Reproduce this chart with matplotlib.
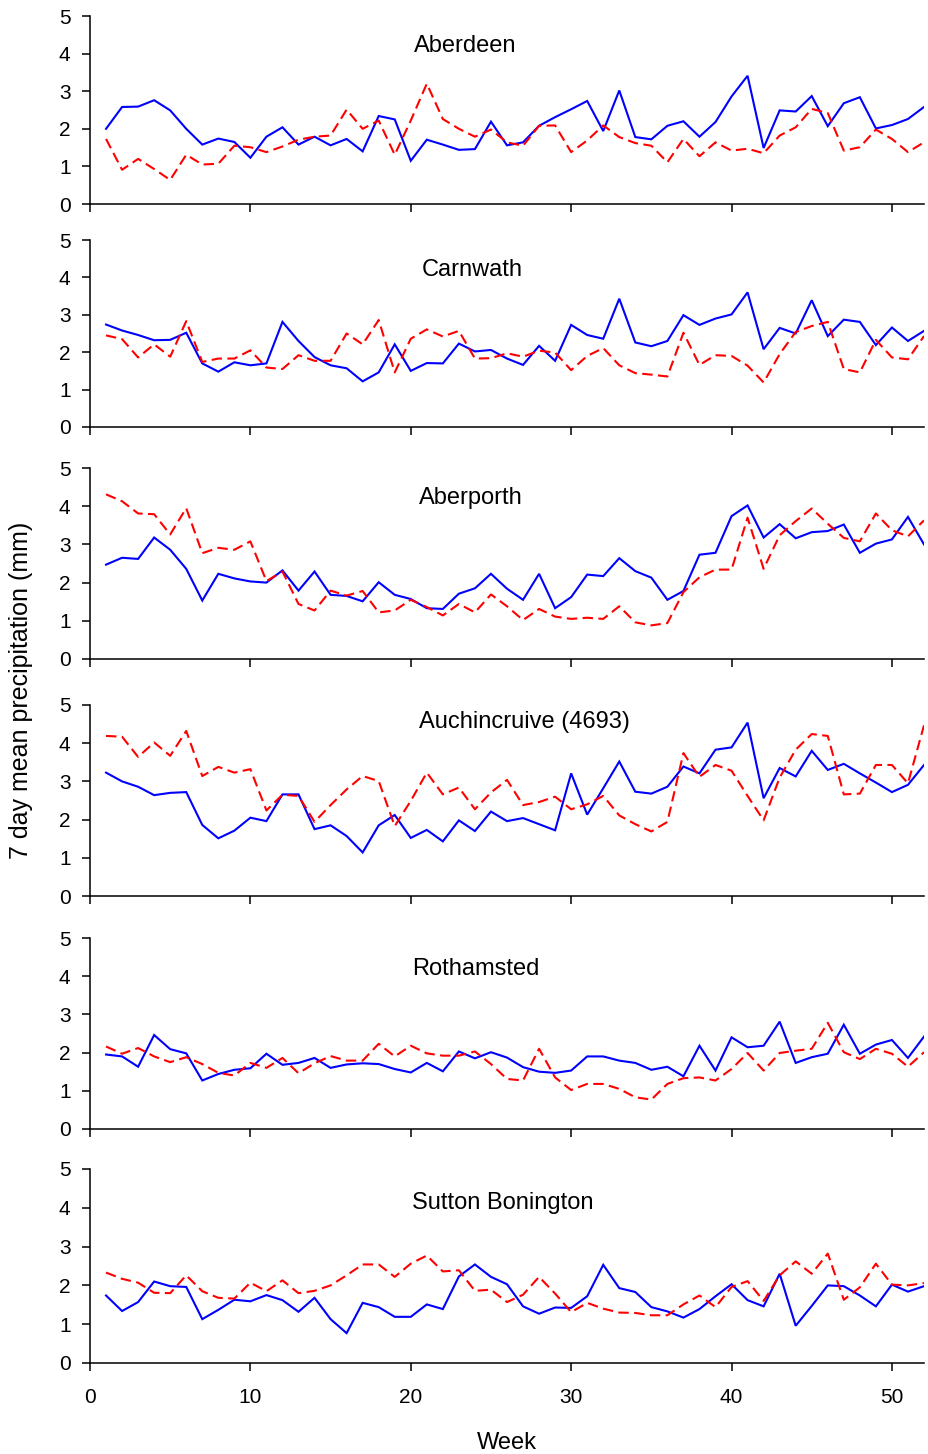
#!/usr/bin/env python3
"""Weekly 7-day mean precipitation at six UK stations, two series per site."""

import matplotlib

matplotlib.use("Agg")
from matplotlib import pyplot as plt
import numpy as np


WEEKS = np.arange(1, 53)

STATIONS = [
    "Aberdeen",
    "Carnwath",
    "Aberporth",
    "Auchincruive (4693)",
    "Rothamsted",
    "Sutton Bonington",
]

aberdeen_solid = [
    2.00, 2.58, 2.59, 2.76, 2.49, 2.00, 1.58, 1.74, 1.65, 1.23,
    1.79, 2.04, 1.58, 1.79, 1.56, 1.73, 1.40, 2.34, 2.25, 1.15,
    1.71, 1.58, 1.44, 1.46, 2.19, 1.56, 1.64, 2.08, 2.31, 2.52,
    2.74, 1.94, 3.02, 1.78, 1.72, 2.08, 2.20, 1.79, 2.18, 2.86,
    3.41, 1.49, 2.49, 2.46, 2.87, 2.07, 2.68, 2.84, 2.01, 2.10,
    2.26, 2.58,
]
aberdeen_dashed = [
    1.73, 0.91, 1.20, 0.93, 0.64, 1.31, 1.05, 1.07, 1.55, 1.51,
    1.38, 1.53, 1.71, 1.79, 1.82, 2.51, 2.00, 2.22, 1.31, 2.22,
    3.20, 2.26, 2.00, 1.79, 1.98, 1.64, 1.55, 2.08, 2.09, 1.38,
    1.69, 2.09, 1.78, 1.62, 1.55, 1.11, 1.73, 1.27, 1.64, 1.42,
    1.47, 1.35, 1.82, 2.04, 2.53, 2.42, 1.42, 1.51, 1.98, 1.73,
    1.38, 1.64,
]

carnwath_solid = [
    2.74, 2.58, 2.46, 2.32, 2.33, 2.52, 1.70, 1.48, 1.73, 1.65,
    1.70, 2.81, 2.30, 1.87, 1.65, 1.57, 1.22, 1.46, 2.21, 1.50,
    1.71, 1.70, 2.23, 2.02, 2.06, 1.83, 1.66, 2.17, 1.77, 2.73,
    2.46, 2.36, 3.43, 2.26, 2.16, 2.30, 2.99, 2.73, 2.90, 3.01,
    3.60, 2.08, 2.65, 2.50, 3.39, 2.43, 2.87, 2.81, 2.19, 2.66,
    2.30, 2.57,
]
carnwath_dashed = [
    2.45, 2.35, 1.86, 2.21, 1.88, 2.83, 1.74, 1.83, 1.83, 2.05,
    1.59, 1.55, 1.92, 1.77, 1.77, 2.50, 2.21, 2.86, 1.46, 2.36,
    2.61, 2.42, 2.57, 1.83, 1.84, 1.97, 1.88, 2.04, 1.99, 1.52,
    1.90, 2.11, 1.65, 1.44, 1.40, 1.35, 2.52, 1.66, 1.92, 1.90,
    1.64, 1.19, 1.95, 2.54, 2.70, 2.81, 1.55, 1.46, 2.33, 1.86,
    1.81, 2.43,
]

aberporth_solid = [
    2.47, 2.65, 2.62, 3.18, 2.86, 2.36, 1.53, 2.23, 2.11, 2.03,
    2.00, 2.32, 1.79, 2.29, 1.68, 1.65, 1.51, 2.01, 1.68, 1.57,
    1.33, 1.31, 1.71, 1.85, 2.23, 1.84, 1.55, 2.23, 1.33, 1.62,
    2.21, 2.17, 2.64, 2.30, 2.13, 1.55, 1.78, 2.73, 2.78, 3.74,
    4.02, 3.18, 3.53, 3.16, 3.32, 3.35, 3.52, 2.78, 3.02, 3.13,
    3.72, 3.00,
]
aberporth_dashed = [
    4.31, 4.13, 3.81, 3.79, 3.26, 3.95, 2.77, 2.91, 2.86, 3.08,
    2.04, 2.29, 1.44, 1.27, 1.79, 1.66, 1.78, 1.22, 1.27, 1.55,
    1.36, 1.14, 1.44, 1.22, 1.69, 1.38, 1.02, 1.31, 1.11, 1.05,
    1.08, 1.05, 1.38, 0.96, 0.88, 0.94, 1.75, 2.14, 2.34, 2.34,
    3.70, 2.36, 3.24, 3.61, 3.94, 3.54, 3.17, 3.08, 3.81, 3.37,
    3.21, 3.63,
]

auchincruive_solid = [
    3.23, 3.00, 2.86, 2.64, 2.70, 2.72, 1.86, 1.51, 1.71, 2.05,
    1.96, 2.66, 2.66, 1.75, 1.85, 1.57, 1.14, 1.85, 2.12, 1.52,
    1.73, 1.43, 1.98, 1.70, 2.21, 1.96, 2.04, 1.88, 1.72, 3.21,
    2.13, 2.82, 3.52, 2.73, 2.68, 2.86, 3.39, 3.21, 3.83, 3.89,
    4.54, 2.56, 3.35, 3.13, 3.80, 3.30, 3.46, 3.21, 2.97, 2.72,
    2.91, 3.43,
]
auchincruive_dashed = [
    4.19, 4.17, 3.64, 4.02, 3.67, 4.32, 3.14, 3.38, 3.23, 3.32,
    2.24, 2.65, 2.62, 1.94, 2.38, 2.79, 3.14, 3.01, 1.83, 2.49,
    3.23, 2.66, 2.84, 2.27, 2.71, 3.04, 2.38, 2.46, 2.60, 2.27,
    2.40, 2.62, 2.11, 1.88, 1.69, 1.94, 3.74, 3.12, 3.43, 3.28,
    2.62, 1.98, 3.10, 3.83, 4.24, 4.19, 2.66, 2.68, 3.43, 3.43,
    2.95, 4.47,
]

rothamsted_solid = [
    1.95, 1.90, 1.63, 2.46, 2.09, 1.98, 1.27, 1.44, 1.55, 1.59,
    1.97, 1.68, 1.73, 1.86, 1.60, 1.69, 1.72, 1.70, 1.57, 1.48,
    1.73, 1.51, 2.03, 1.85, 2.01, 1.87, 1.62, 1.50, 1.47, 1.53,
    1.90, 1.90, 1.79, 1.73, 1.55, 1.63, 1.38, 2.18, 1.53, 2.40,
    2.14, 2.18, 2.81, 1.73, 1.88, 1.97, 2.73, 1.97, 2.21, 2.33,
    1.86, 2.42,
]
rothamsted_dashed = [
    2.16, 1.97, 2.12, 1.90, 1.75, 1.88, 1.70, 1.47, 1.40, 1.73,
    1.60, 1.86, 1.46, 1.72, 1.91, 1.79, 1.79, 2.23, 1.90, 2.18,
    1.98, 1.92, 1.92, 2.03, 1.70, 1.31, 1.27, 2.10, 1.35, 1.02,
    1.18, 1.18, 1.05, 0.83, 0.77, 1.18, 1.33, 1.35, 1.27, 1.57,
    1.99, 1.53, 1.99, 2.05, 2.10, 2.78, 2.01, 1.83, 2.10, 1.97,
    1.63, 2.01,
]

sutton_solid = [
    1.74, 1.34, 1.57, 2.10, 1.98, 1.96, 1.13, 1.37, 1.63, 1.59,
    1.75, 1.62, 1.32, 1.68, 1.13, 0.77, 1.55, 1.44, 1.19, 1.19,
    1.51, 1.39, 2.23, 2.54, 2.22, 2.03, 1.46, 1.27, 1.43, 1.42,
    1.72, 2.53, 1.93, 1.83, 1.44, 1.33, 1.17, 1.39, 1.72, 2.03,
    1.62, 1.46, 2.30, 0.96, 1.47, 2.00, 1.98, 1.74, 1.46, 2.02,
    1.84, 1.98,
]
sutton_dashed = [
    2.33, 2.17, 2.07, 1.81, 1.80, 2.26, 1.85, 1.68, 1.66, 2.07,
    1.85, 2.13, 1.80, 1.86, 2.00, 2.26, 2.54, 2.54, 2.22, 2.56,
    2.77, 2.36, 2.39, 1.86, 1.89, 1.57, 1.76, 2.22, 1.79, 1.31,
    1.55, 1.40, 1.30, 1.29, 1.23, 1.23, 1.51, 1.74, 1.44, 1.96,
    2.11, 1.60, 2.26, 2.62, 2.30, 2.82, 1.63, 1.95, 2.56, 2.02,
    2.00, 2.06,
]

SOLID_SERIES = [
    aberdeen_solid, carnwath_solid, aberporth_solid,
    auchincruive_solid, rothamsted_solid, sutton_solid,
]
DASHED_SERIES = [
    aberdeen_dashed, carnwath_dashed, aberporth_dashed,
    auchincruive_dashed, rothamsted_dashed, sutton_dashed,
]

X_TICKS = [0, 10, 20, 30, 40, 50]
Y_TICKS = [0, 1, 2, 3, 4, 5]

# panel extents in pixels from the top of the figure: (top, bottom)
FIG_W, FIG_H = 929, 1454
PANEL_PX = [(16, 204), (240, 427), (468, 659), (705, 896), (938, 1129), (1169, 1363)]
LEFT_PX, RIGHT_PX = 90, 924
# station name anchor (week, value) inside each panel
NAME_POS = [(20.2, 4.2), (20.7, 4.2), (20.5, 4.22), (20.5, 4.55), (20.1, 4.2), (20.1, 4.12)]

FONT = ["Liberation Sans", "DejaVu Sans"]


def main() -> int:
    plt.rcParams["font.family"] = FONT
    figure = plt.figure(figsize=(FIG_W / 100, FIG_H / 100), dpi=100)
    axes = []
    for index, (top, bottom) in enumerate(PANEL_PX):
        axis = figure.add_axes(
            [
                LEFT_PX / FIG_W,
                1 - bottom / FIG_H,
                (RIGHT_PX - LEFT_PX) / FIG_W,
                (bottom - top) / FIG_H,
            ]
        )
        draw_panel(axis, index)
        axes.append(axis)

    axes[-1].tick_params(axis="x", labelbottom=True, pad=12)
    axes[-1].set_xlabel("Week", fontsize=17, labelpad=18)
    figure.text(
        21 / FIG_W,
        1 - 690 / FIG_H,
        "7 day mean precipitation (mm)",
        rotation=90,
        ha="center",
        va="center",
        fontsize=18,
    )
    figure.savefig("out.png", dpi=100, facecolor="white")
    plt.close(figure)
    return 0


def draw_panel(axis, index: int) -> None:
    axis.plot(
        WEEKS,
        SOLID_SERIES[index],
        color="#0000ff",
        linewidth=1.5,
        solid_joinstyle="miter",
    )
    axis.plot(
        WEEKS,
        DASHED_SERIES[index],
        color="#ff0000",
        linewidth=1.5,
        dashes=(5.0, 2.6),
    )
    axis.set_xlim(0, 52)
    axis.set_ylim(0, 5)
    axis.set_xticks(X_TICKS)
    axis.set_yticks(Y_TICKS)
    for side in ("top", "right"):
        axis.spines[side].set_visible(False)
    for side in ("left", "bottom"):
        axis.spines[side].set_linewidth(1.1)
    axis.tick_params(
        direction="out",
        length=6,
        width=1.1,
        labelsize=15,
        pad=8,
        labelbottom=False,
    )
    name_x, name_y = NAME_POS[index]
    axis.text(name_x, name_y, STATIONS[index], fontsize=17, ha="left", va="center")


if __name__ == "__main__":
    raise SystemExit(main())
